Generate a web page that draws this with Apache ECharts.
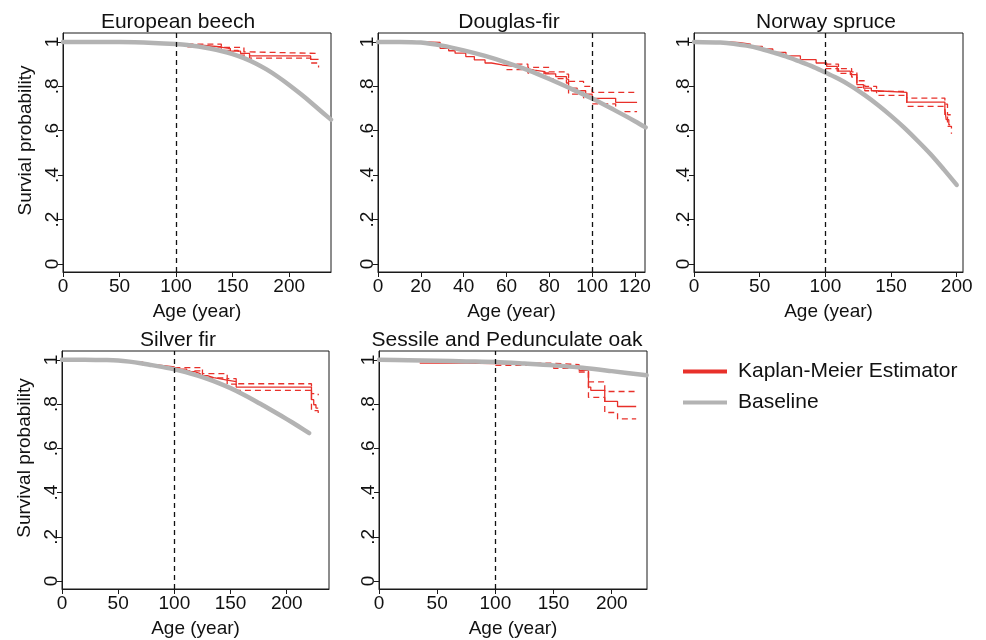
<!DOCTYPE html>
<html>
<head>
<meta charset="utf-8">
<script src="https://cdn.jsdelivr.net/npm/echarts@6/dist/echarts.min.js"></script>
<style>
  html, body { margin: 0; padding: 0; background: #fff; }
  #chart { width: 986px; height: 640px; }
</style>
</head>
<body>
<div id="chart"></div>
<script>
// ---- Data: [age (years), survival probability] ----
const panelTitles = ['European beech', 'Douglas-fir', 'Norway spruce', 'Silver fir', 'Sessile and Pedunculate oak'];
const yAxisTitles = ['Survial probability', '', '', 'Survival probability', ''];
const xAxisTitle = 'Age (year)';
const legendNames = ['Kaplan-Meier Estimator', 'Baseline'];
const referenceAge = 100;

const yTicks = [0, 0.2, 0.4, 0.6, 0.8, 1];
const xTicksBeech = [0, 50, 100, 150, 200];
const xTicksDouglas = [0, 20, 40, 60, 80, 100, 120];
const xTicksSpruce = [0, 50, 100, 150, 200];
const xTicksFir = [0, 50, 100, 150, 200];
const xTicksOak = [0, 50, 100, 150, 200];

// European beech
const beechBaseline = [[0, 1], [50, 0.999], [80, 0.995], [100, 0.99], [110, 0.986], [120, 0.979], [130, 0.97], [140, 0.959], [150, 0.945], [160, 0.927], [170, 0.904], [180, 0.876], [190, 0.843], [200, 0.806], [210, 0.766], [220, 0.724], [230, 0.68], [237, 0.65]];
const beechKM = [[100, 0.99], [110, 0.984], [125, 0.978], [138, 0.97], [148, 0.958], [157, 0.948], [165, 0.937], [219, 0.921], [226, 0.921]];
const beechUpper = [[110, 0.99], [140, 0.975], [160, 0.955], [165, 0.948], [226, 0.948]];
const beechLower = [[110, 0.978], [140, 0.962], [155, 0.94], [165, 0.927], [219, 0.905], [226, 0.885]];

// Douglas-fir
const douglasBaseline = [[0, 1], [10, 1], [20, 0.997], [30, 0.983], [40, 0.962], [50, 0.937], [60, 0.907], [70, 0.873], [80, 0.833], [90, 0.79], [100, 0.745], [110, 0.695], [120, 0.643], [125, 0.615]];
const douglasKM = [[0, 1], [22, 0.998], [29, 0.971], [33, 0.96], [36, 0.949], [41, 0.934], [45, 0.919], [50, 0.905], [53, 0.896], [58, 0.89], [64, 0.881], [69, 0.873], [73, 0.866], [78, 0.856], [83, 0.844], [88, 0.832], [89, 0.792], [93, 0.78], [97, 0.765], [100, 0.746], [111, 0.728], [121, 0.728]];
const douglasUpper = [[60, 0.9], [70, 0.885], [80, 0.865], [88, 0.855], [89, 0.822], [96, 0.8], [100, 0.773], [121, 0.773]];
const douglasLower = [[60, 0.875], [70, 0.86], [80, 0.835], [88, 0.815], [89, 0.765], [96, 0.748], [100, 0.721], [111, 0.686], [121, 0.686]];

// Norway spruce
const spruceBaseline = [[0, 1], [20, 0.997], [30, 0.992], [40, 0.983], [50, 0.97], [60, 0.953], [70, 0.935], [80, 0.913], [90, 0.89], [100, 0.862], [110, 0.834], [120, 0.8], [130, 0.76], [140, 0.716], [150, 0.667], [160, 0.614], [170, 0.556], [180, 0.495], [190, 0.427], [200, 0.356]];
const spruceKM = [[0, 1], [27, 0.997], [35, 0.99], [43, 0.98], [52, 0.968], [60, 0.953], [70, 0.937], [81, 0.92], [93, 0.905], [101, 0.89], [109, 0.868], [119, 0.853], [124, 0.808], [129, 0.792], [135, 0.78], [139, 0.773], [162, 0.729], [191, 0.695], [192, 0.65], [194, 0.627], [195, 0.627]];
const spruceUpper = [[100, 0.9], [110, 0.88], [120, 0.865], [124, 0.825], [130, 0.8], [139, 0.777], [162, 0.747], [191, 0.72], [193, 0.672], [196, 0.665]];
const spruceLower = [[100, 0.88], [110, 0.858], [120, 0.842], [124, 0.795], [130, 0.78], [139, 0.759], [162, 0.71], [191, 0.67], [193, 0.62], [196, 0.586]];

// Silver fir
const firBaseline = [[0, 1], [20, 1], [40, 0.999], [50, 0.997], [60, 0.992], [70, 0.985], [80, 0.976], [90, 0.967], [100, 0.957], [110, 0.945], [120, 0.93], [130, 0.913], [140, 0.894], [150, 0.872], [160, 0.847], [170, 0.82], [180, 0.791], [190, 0.762], [200, 0.732], [210, 0.701], [220, 0.669]];
const firKM = [[65, 0.99], [72, 0.977], [85, 0.968], [100, 0.958], [111, 0.947], [118, 0.938], [123, 0.928], [130, 0.92], [135, 0.914], [141, 0.908], [147, 0.902], [155, 0.877], [222, 0.82], [224, 0.797], [226, 0.782], [228, 0.782]];
const firUpper = [[100, 0.965], [125, 0.938], [147, 0.915], [155, 0.892], [222, 0.847], [228, 0.84]];
const firLower = [[100, 0.95], [125, 0.918], [147, 0.89], [155, 0.862], [222, 0.77], [228, 0.744]];

// Sessile and Pedunculate oak
const oakBaseline = [[0, 1], [25, 0.998], [50, 0.996], [75, 0.993], [100, 0.99], [125, 0.983], [150, 0.975], [175, 0.964], [200, 0.949], [230, 0.93]];
const oakKM = [[35, 0.985], [70, 0.983], [100, 0.98], [130, 0.975], [150, 0.97], [165, 0.962], [172, 0.952], [180, 0.877], [182, 0.862], [194, 0.812], [205, 0.789], [221, 0.789]];
const oakUpper = [[100, 0.985], [150, 0.978], [172, 0.965], [180, 0.9], [194, 0.857], [221, 0.857]];
const oakLower = [[100, 0.975], [150, 0.962], [172, 0.945], [180, 0.83], [194, 0.762], [205, 0.733], [221, 0.733]];

// ---- Layout and styling ----
const FONT = "'Liberation Sans', Arial, Helvetica, sans-serif";
const INK = '#111';
const RED = '#e8302a';
const GREY = '#b3b3b3';
const Y_MIN = -0.036, Y_MAX = 1.04;

const panels = [
  { grid: { left: 63, top: 33, width: 268, height: 239 }, xMax: 237, xTicks: xTicksBeech, titleX: 178, titleY: 12,
    base: beechBaseline, km: beechKM, up: beechUpper, lo: beechLower },
  { grid: { left: 378, top: 33, width: 267, height: 239 }, xMax: 124.7, xTicks: xTicksDouglas, titleX: 509, titleY: 12,
    base: douglasBaseline, km: douglasKM, up: douglasUpper, lo: douglasLower },
  { grid: { left: 694, top: 33, width: 269, height: 239 }, xMax: 204.8, xTicks: xTicksSpruce, titleX: 826, titleY: 12,
    base: spruceBaseline, km: spruceKM, up: spruceUpper, lo: spruceLower },
  { grid: { left: 62, top: 351, width: 267, height: 238 }, xMax: 237.6, xTicks: xTicksFir, titleX: 178, titleY: 330,
    base: firBaseline, km: firKM, up: firUpper, lo: firLower },
  { grid: { left: 379, top: 351, width: 268, height: 238 }, xMax: 230.3, xTicks: xTicksOak, titleX: 507, titleY: 330,
    base: oakBaseline, km: oakKM, up: oakUpper, lo: oakLower }
];

const grids = [], xAxes = [], yAxes = [], titles = [], series = [];

panels.forEach((p, i) => {
  grids.push(Object.assign({ show: true, borderColor: '#1a1a1a', borderWidth: 1, backgroundColor: 'transparent' }, p.grid));

  titles.push({
    text: panelTitles[i], left: p.titleX, top: p.titleY, textAlign: 'center', padding: 0,
    textStyle: { fontFamily: FONT, fontSize: 21, fontWeight: 'normal', color: INK }
  });

  xAxes.push({
    type: 'value', gridIndex: i, min: 0, max: p.xMax,
    name: xAxisTitle, nameLocation: 'middle', nameGap: 30,
    nameTextStyle: { fontFamily: FONT, fontSize: 19, color: INK },
    axisLine: { show: true, onZero: false, lineStyle: { color: '#1a1a1a', width: 1 } },
    axisTick: { show: true, length: 5, customValues: p.xTicks, lineStyle: { color: '#1a1a1a' } },
    axisLabel: { customValues: p.xTicks, margin: 5, fontFamily: FONT, fontSize: 19, color: INK },
    splitLine: { show: false }
  });

  yAxes.push({
    type: 'value', gridIndex: i, min: Y_MIN, max: Y_MAX,
    name: yAxisTitles[i], nameLocation: 'middle', nameGap: 28,
    nameTextStyle: { fontFamily: FONT, fontSize: 19, color: INK, padding: [0, 0, 0, 24] },
    axisLine: { show: true, onZero: false, lineStyle: { color: '#1a1a1a', width: 1 } },
    axisTick: { show: true, length: 5, customValues: yTicks, lineStyle: { color: '#1a1a1a' } },
    axisLabel: {
      customValues: yTicks, rotate: 90, margin: 1, fontFamily: FONT, fontSize: 19, color: INK,
      formatter: v => (v === 0 ? '0' : v === 1 ? '1' : String(v).replace(/^0/, ''))
    },
    splitLine: { show: false }
  });

  const common = { xAxisIndex: i, yAxisIndex: i, type: 'line', showSymbol: false, symbol: 'none', silent: true };

  series.push(Object.assign({}, common, {
    name: 'lower-' + i, data: p.lo, step: 'end',
    lineStyle: { color: RED, width: 1.3, type: [6, 4] }, itemStyle: { color: RED }
  }));
  series.push(Object.assign({}, common, {
    name: 'upper-' + i, data: p.up, step: 'end',
    lineStyle: { color: RED, width: 1.3, type: [6, 4] }, itemStyle: { color: RED }
  }));
  series.push(Object.assign({}, common, {
    name: legendNames[0], data: p.km, step: 'end',
    lineStyle: { color: RED, width: 1.3 }, itemStyle: { color: RED },
    markLine: {
      silent: true, symbol: 'none', label: { show: false },
      lineStyle: { color: '#111', width: 1.3, type: [5, 4] },
      data: [{ xAxis: referenceAge }]
    }
  }));
  series.push(Object.assign({}, common, {
    name: legendNames[1], data: p.base, smooth: 0.3,
    lineStyle: { color: GREY, width: 4.5, cap: 'round', join: 'round' }, itemStyle: { color: GREY }
  }));
});

const chart = echarts.init(document.getElementById('chart'), null, { renderer: 'canvas' });
chart.setOption({
  animation: false,
  backgroundColor: '#fff',
  title: titles,
  grid: grids,
  xAxis: xAxes,
  yAxis: yAxes,
  legend: {
    data: legendNames, orient: 'vertical', left: 683, top: 361, padding: 0,
    icon: 'rect', itemWidth: 44, itemHeight: 4, itemGap: 10, selectedMode: false,
    textStyle: { fontFamily: FONT, fontSize: 21, color: INK, padding: [0, 0, 0, 6] }
  },
  series: series
});
</script>
</body>
</html>
